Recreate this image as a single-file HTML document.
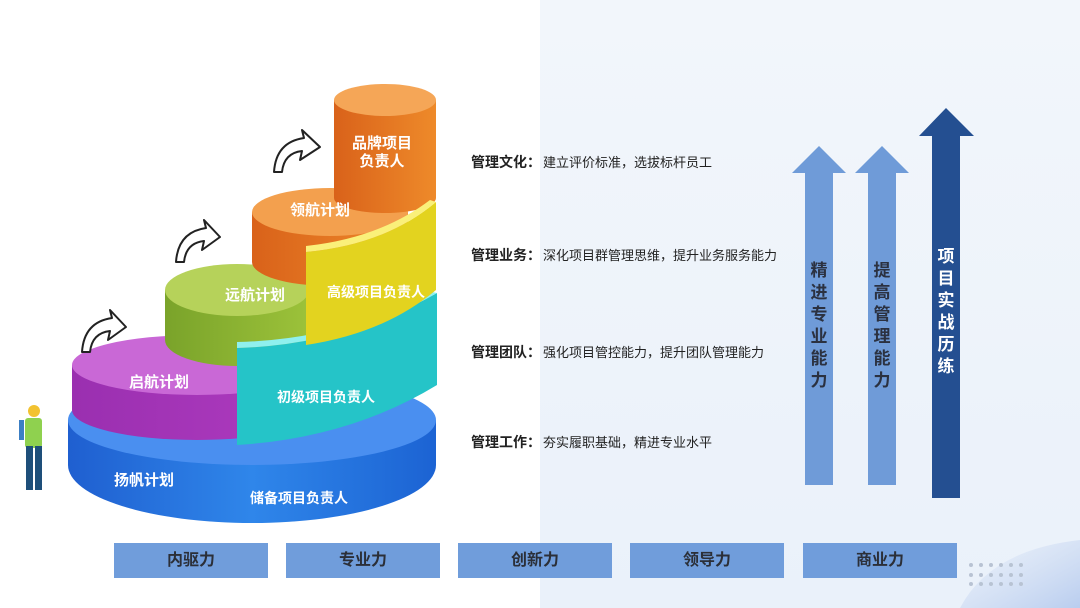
<!DOCTYPE html>
<html><head><meta charset="utf-8"><style>
body{margin:0;width:1080px;height:608px;overflow:hidden;font-family:"Liberation Sans","Noto Sans CJK SC",sans-serif;background:#fff;position:relative}
.bg{position:absolute;left:540px;top:0;width:540px;height:608px;background:linear-gradient(180deg,#f2f6fb,#eaf1fa)}
.t{position:absolute;left:471px;font-size:13px;color:#222;white-space:nowrap}
.t b{font-size:14px;margin-right:2px}
.box{position:absolute;top:543px;height:35px;width:154px;background:#709ddb;color:#2b2f38;font-size:16px;font-weight:bold;text-align:center;line-height:35px}
</style></head><body>
<div class="bg"></div>
<svg width="1080" height="608" style="position:absolute;left:0;top:0">
<defs>
<linearGradient id="gb" x1="0" x2="1"><stop offset="0" stop-color="#1f5fd0"/><stop offset=".5" stop-color="#2f86ea"/><stop offset="1" stop-color="#1c63d3"/></linearGradient>
<linearGradient id="gm" x1="0" x2="1"><stop offset="0" stop-color="#9a2fb0"/><stop offset="1" stop-color="#b03cc0"/></linearGradient>
<linearGradient id="gg" x1="0" x2="1"><stop offset="0" stop-color="#7aa32a"/><stop offset="1" stop-color="#9cc23a"/></linearGradient>
<linearGradient id="go" x1="0" x2="1"><stop offset="0" stop-color="#d9621a"/><stop offset="1" stop-color="#ee8a2a"/></linearGradient>
<linearGradient id="gc" x1="0" x2="1" y1="0" y2="1"><stop offset="0" stop-color="#cfdcf2" stop-opacity="0"/><stop offset="1" stop-color="#b9cdef"/></linearGradient>
</defs>
<path d="M68,420 L68,465 A184,58 0 0 0 436,465 L436,420 Z" fill="url(#gb)"/>
<ellipse cx="252" cy="420" rx="184" ry="45" fill="#4a8ff0"/>
<path d="M72,365 L72,410 A125,30 0 0 0 322,410 L322,365 Z" fill="url(#gm)"/>
<ellipse cx="197" cy="365" rx="125" ry="30" fill="#c968d6"/>
<path d="M165,290 L165,340 A72,26 0 0 0 309,340 L309,290 Z" fill="url(#gg)"/>
<ellipse cx="237" cy="290" rx="72" ry="26" fill="#b6d25a"/>
<path d="M252,212 L252,262 A78,24 0 0 0 408,262 L408,212 Z" fill="url(#go)"/>
<ellipse cx="330" cy="212" rx="78" ry="24" fill="#f3a04e"/>
<path d="M334,100 L334,198 A51,15 0 0 0 436,198 L436,100 Z" fill="url(#go)"/>
<ellipse cx="385" cy="100" rx="51" ry="16" fill="#f5a657"/>
<path d="M237,348 Q345,345 437,293 L437,385 Q350,438 237,445 Z" fill="#25c4c8"/>
<path d="M237,348 Q345,345 437,293 L432,292 Q340,340 237,342 Z" fill="#8ff0ee"/>
<path d="M306,252 Q385,245 436,202 L436,290 Q385,333 306,345 Z" fill="#e3d31f"/>
<path d="M306,252 Q385,245 436,202 L430,200 Q380,238 306,246 Z" fill="#faf07a"/>
<g fill="#fff" stroke="#222" stroke-width="2" stroke-linejoin="round">
<path d="M82,352 Q84,322 112,318 L110,310 L126,327 L108,340 L110,331 Q92,333 90,352 Z"/>
<path d="M176,262 Q178,232 206,228 L204,220 L220,237 L202,250 L204,241 Q186,243 184,262 Z"/>
<path d="M274,172 Q276,142 304,138 L302,130 L320,147 L300,160 L302,151 Q284,153 282,172 Z"/>
</g>
<circle cx="34" cy="411" r="6" fill="#f2c230"/>
<rect x="25" y="418" width="17" height="30" rx="3" fill="#8fd14f"/>
<rect x="26" y="446" width="7" height="44" fill="#1e4f7a"/><rect x="35" y="446" width="7" height="44" fill="#1e4f7a"/>
<rect x="19" y="420" width="5" height="20" fill="#3c7fc4"/>
<g fill="#fff" font-weight="bold" font-size="15" font-family="Liberation Sans,Noto Sans CJK SC,sans-serif" text-anchor="middle">
<text x="382" y="148">品牌项目</text><text x="382" y="166">负责人</text>
<text x="320" y="215">领航计划</text>
<text x="255" y="300">远航计划</text>
<text x="376" y="297" font-size="14">高级项目负责人</text>
<text x="159" y="387">启航计划</text>
<text x="326" y="402" font-size="14">初级项目负责人</text>
<text x="144" y="485">扬帆计划</text>
<text x="299" y="503" font-size="14">储备项目负责人</text>
</g>
<path d="M805,485 L805,173 L792,173 L819,146 L846,173 L833,173 L833,485 Z" fill="#6f9bd8"/>
<path d="M868,485 L868,173 L855,173 L882,146 L909,173 L896,173 L896,485 Z" fill="#6f9bd8"/>
<path d="M932,498 L932,136 L919,136 L946,108 L974,136 L960,136 L960,498 Z" fill="#244f91"/>
<g font-weight="bold" font-size="17" font-family="Liberation Sans,Noto Sans CJK SC,sans-serif" text-anchor="middle">
<g fill="#2b3140"><text x="819" y="276">精</text><text x="819" y="298">进</text><text x="819" y="320">专</text><text x="819" y="342">业</text><text x="819" y="364">能</text><text x="819" y="386">力</text>
<text x="882" y="276">提</text><text x="882" y="298">高</text><text x="882" y="320">管</text><text x="882" y="342">理</text><text x="882" y="364">能</text><text x="882" y="386">力</text></g>
<g fill="#fff"><text x="946" y="262">项</text><text x="946" y="284">目</text><text x="946" y="306">实</text><text x="946" y="328">战</text><text x="946" y="350">历</text><text x="946" y="372">练</text></g>
</g>
<path d="M960,608 Q990,550 1080,540 L1080,608 Z" fill="url(#gc)"/>
<g fill="#b8c3d3"><circle cx="971" cy="565" r="2"/><circle cx="981" cy="565" r="2"/><circle cx="991" cy="565" r="2"/><circle cx="1001" cy="565" r="2"/><circle cx="1011" cy="565" r="2"/><circle cx="1021" cy="565" r="2"/>
<circle cx="971" cy="575" r="2"/><circle cx="981" cy="575" r="2"/><circle cx="991" cy="575" r="2"/><circle cx="1001" cy="575" r="2"/><circle cx="1011" cy="575" r="2"/><circle cx="1021" cy="575" r="2"/>
<circle cx="971" cy="584" r="2"/><circle cx="981" cy="584" r="2"/><circle cx="991" cy="584" r="2"/><circle cx="1001" cy="584" r="2"/><circle cx="1011" cy="584" r="2"/><circle cx="1021" cy="584" r="2"/></g>
</svg>
<div class="t" style="top:152px"><b>管理文化：</b>建立评价标准，选拔标杆员工</div>
<div class="t" style="top:245px"><b>管理业务：</b>深化项目群管理思维，提升业务服务能力</div>
<div class="t" style="top:342px"><b>管理团队：</b>强化项目管控能力，提升团队管理能力</div>
<div class="t" style="top:432px"><b>管理工作：</b>夯实履职基础，精进专业水平</div>
<div class="box" style="left:114px">内驱力</div>
<div class="box" style="left:286px">专业力</div>
<div class="box" style="left:458px">创新力</div>
<div class="box" style="left:630px">领导力</div>
<div class="box" style="left:803px">商业力</div>
</body></html>
